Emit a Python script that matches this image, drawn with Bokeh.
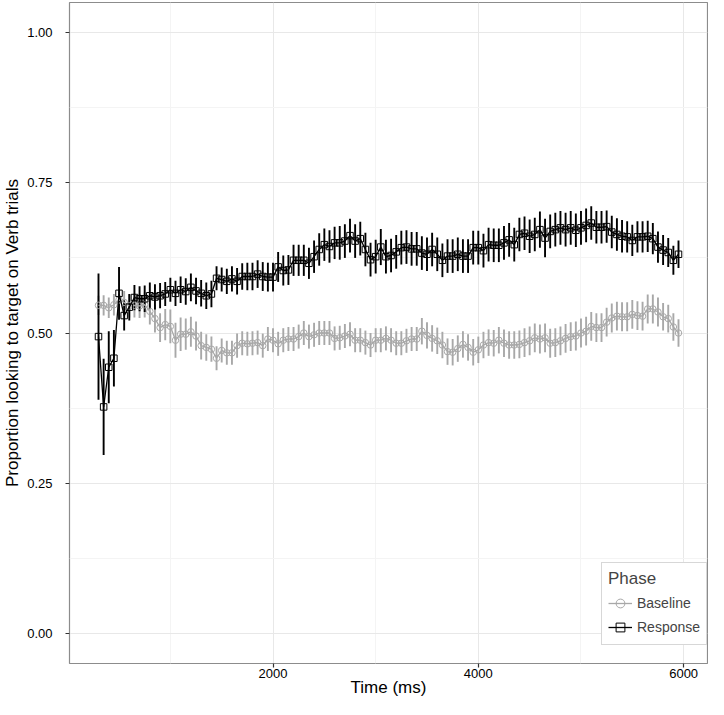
from bokeh.plotting import figure
from bokeh.models import (ColumnDataSource, FixedTicker, NumeralTickFormatter,
                          Range1d, Legend, LegendItem)
from bokeh.embed import file_html
from bokeh.resources import INLINE

time_ms = [300, 350, 400, 450, 500, 550, 600, 650, 700, 750,
           800, 850, 900, 950, 1000, 1050, 1100, 1150, 1200, 1250,
           1300, 1350, 1400, 1450, 1500, 1550, 1600, 1650, 1700, 1750,
           1800, 1850, 1900, 1950, 2000, 2050, 2100, 2150, 2200, 2250,
           2300, 2350, 2400, 2450, 2500, 2550, 2600, 2650, 2700, 2750,
           2800, 2850, 2900, 2950, 3000, 3050, 3100, 3150, 3200, 3250,
           3300, 3350, 3400, 3450, 3500, 3550, 3600, 3650, 3700, 3750,
           3800, 3850, 3900, 3950, 4000, 4050, 4100, 4150, 4200, 4250,
           4300, 4350, 4400, 4450, 4500, 4550, 4600, 4650, 4700, 4750,
           4800, 4850, 4900, 4950, 5000, 5050, 5100, 5150, 5200, 5250,
           5300, 5350, 5400, 5450, 5500, 5550, 5600, 5650, 5700, 5750,
           5800, 5850, 5900, 5950]

baseline = [0.546, 0.546, 0.542, 0.547, 0.555, 0.551, 0.545, 0.546, 0.545, 0.547,
            0.536, 0.524, 0.509, 0.514, 0.511, 0.488, 0.498, 0.498, 0.502, 0.495,
            0.479, 0.476, 0.473, 0.458, 0.471, 0.467, 0.467, 0.479, 0.483, 0.482,
            0.483, 0.484, 0.479, 0.490, 0.488, 0.482, 0.488, 0.490, 0.490, 0.494,
            0.500, 0.494, 0.497, 0.500, 0.500, 0.500, 0.491, 0.492, 0.495, 0.498,
            0.488, 0.488, 0.484, 0.480, 0.488, 0.488, 0.491, 0.488, 0.483, 0.483,
            0.487, 0.490, 0.490, 0.503, 0.496, 0.491, 0.487, 0.480, 0.469, 0.468,
            0.474, 0.481, 0.476, 0.468, 0.472, 0.480, 0.484, 0.483, 0.488, 0.483,
            0.480, 0.480, 0.481, 0.484, 0.487, 0.492, 0.490, 0.492, 0.483, 0.484,
            0.487, 0.491, 0.494, 0.495, 0.500, 0.503, 0.511, 0.509, 0.509, 0.518,
            0.525, 0.528, 0.527, 0.527, 0.531, 0.529, 0.528, 0.540, 0.540, 0.535,
            0.527, 0.524, 0.510, 0.500]

baseline_err = [0.016, 0.017, 0.017, 0.018, 0.018, 0.019, 0.019, 0.020, 0.020, 0.021,
                0.022, 0.023, 0.024, 0.026, 0.028, 0.029, 0.028, 0.026, 0.025, 0.024,
                0.023, 0.022, 0.021, 0.020, 0.020, 0.020, 0.020, 0.020, 0.020, 0.020,
                0.020, 0.020, 0.020, 0.020, 0.020, 0.020, 0.020, 0.020, 0.020, 0.020,
                0.020, 0.020, 0.020, 0.020, 0.020, 0.020, 0.020, 0.020, 0.020, 0.020,
                0.020, 0.020, 0.020, 0.020, 0.020, 0.020, 0.020, 0.020, 0.020, 0.020,
                0.020, 0.020, 0.020, 0.022, 0.022, 0.022, 0.022, 0.022, 0.022, 0.022,
                0.022, 0.022, 0.022, 0.022, 0.022, 0.022, 0.022, 0.022, 0.022, 0.023,
                0.023, 0.023, 0.023, 0.024, 0.024, 0.024, 0.024, 0.024, 0.024, 0.024,
                0.024, 0.024, 0.024, 0.024, 0.024, 0.024, 0.024, 0.024, 0.024, 0.024,
                0.024, 0.024, 0.024, 0.024, 0.024, 0.024, 0.024, 0.024, 0.024, 0.024,
                0.023, 0.023, 0.023, 0.023]

response = [0.494, 0.377, 0.443, 0.458, 0.566, 0.529, 0.543, 0.559, 0.557, 0.557,
            0.562, 0.560, 0.562, 0.565, 0.572, 0.566, 0.572, 0.569, 0.576, 0.570,
            0.566, 0.562, 0.565, 0.591, 0.589, 0.586, 0.590, 0.586, 0.594, 0.594,
            0.594, 0.598, 0.594, 0.593, 0.593, 0.610, 0.604, 0.605, 0.621, 0.621,
            0.621, 0.616, 0.627, 0.639, 0.647, 0.644, 0.650, 0.650, 0.653, 0.662,
            0.653, 0.657, 0.639, 0.622, 0.627, 0.643, 0.627, 0.629, 0.635, 0.642,
            0.643, 0.640, 0.640, 0.633, 0.631, 0.639, 0.631, 0.621, 0.628, 0.628,
            0.631, 0.628, 0.628, 0.642, 0.642, 0.637, 0.647, 0.646, 0.646, 0.650,
            0.655, 0.647, 0.664, 0.666, 0.661, 0.664, 0.672, 0.658, 0.669, 0.672,
            0.675, 0.672, 0.675, 0.671, 0.675, 0.679, 0.683, 0.676, 0.676, 0.677,
            0.668, 0.664, 0.661, 0.660, 0.654, 0.660, 0.660, 0.661, 0.657, 0.643,
            0.638, 0.634, 0.621, 0.631]

response_err = [0.105, 0.080, 0.060, 0.047, 0.044, 0.025, 0.022, 0.021, 0.021, 0.022,
                0.022, 0.021, 0.021, 0.020, 0.020, 0.021, 0.022, 0.022, 0.023, 0.022,
                0.022, 0.022, 0.022, 0.020, 0.020, 0.021, 0.021, 0.022, 0.022, 0.023,
                0.023, 0.023, 0.024, 0.024, 0.024, 0.025, 0.025, 0.025, 0.026, 0.026,
                0.026, 0.026, 0.027, 0.027, 0.027, 0.027, 0.027, 0.028, 0.028, 0.028,
                0.028, 0.028, 0.028, 0.028, 0.028, 0.030, 0.028, 0.028, 0.028, 0.028,
                0.028, 0.028, 0.028, 0.028, 0.028, 0.028, 0.028, 0.028, 0.028, 0.028,
                0.028, 0.028, 0.028, 0.028, 0.028, 0.028, 0.028, 0.028, 0.028, 0.028,
                0.028, 0.028, 0.028, 0.028, 0.028, 0.028, 0.030, 0.032, 0.028, 0.028,
                0.028, 0.028, 0.028, 0.028, 0.028, 0.028, 0.028, 0.027, 0.027, 0.027,
                0.027, 0.027, 0.027, 0.026, 0.026, 0.026, 0.026, 0.026, 0.026, 0.026,
                0.025, 0.024, 0.024, 0.023]

phases = ["Baseline", "Response"]
x_ticks = [2000, 4000, 6000]
x_minor = [1000, 3000, 5000]
y_ticks = [0.0, 0.25, 0.5, 0.75, 1.0]
y_minor = [0.125, 0.375, 0.625, 0.875]

FONT = "Liberation Sans"
GREY = "#a8a8a8"
BLACK = "#000000"

# ggplot-style 5% expansion
xmin, xmax = min(time_ms), max(time_ms)
xpad = (xmax - xmin) * 0.05

p = figure(width=708, height=699, output_backend="svg", toolbar_location=None,
           x_range=Range1d(xmin - xpad, xmax + xpad), y_range=Range1d(-0.05, 1.05),
           min_border_left=68, min_border_right=1, min_border_top=2, min_border_bottom=0)

p.background_fill_color = "white"
p.border_fill_color = "white"
p.outline_line_color = "#8c8c8c"
p.outline_line_width = 1.2

p.xaxis.ticker = FixedTicker(ticks=x_ticks, minor_ticks=x_minor)
p.yaxis.ticker = FixedTicker(ticks=y_ticks, minor_ticks=y_minor)
p.yaxis.formatter = NumeralTickFormatter(format="0.00")

for ax in (p.xaxis[0], p.yaxis[0]):
    ax.axis_line_color = None
    ax.major_tick_line_color = "#333333"
    ax.major_tick_line_width = 1.2
    ax.major_tick_out = 4
    ax.major_tick_in = 0
    ax.minor_tick_line_color = None
    ax.major_label_text_font = FONT
    ax.major_label_text_font_size = "13px"
    ax.major_label_text_color = "#000000"
    ax.axis_label_text_font = FONT
    ax.axis_label_text_font_size = "17px"
    ax.axis_label_text_font_style = "normal"
    ax.axis_label_text_color = "#000000"

p.xaxis.axis_label = "Time (ms)"
p.yaxis.axis_label = "Proportion looking to target on Verb trials"
p.xaxis.major_label_standoff = 1
p.xaxis.axis_label_standoff = -3
p.yaxis.major_label_standoff = 13
p.yaxis.axis_label_standoff = 2

p.grid.grid_line_color = "#e8e8e8"
p.grid.grid_line_width = 1
p.grid.minor_grid_line_color = "#f4f4f4"
p.grid.minor_grid_line_width = 1

series = [
    ("Baseline", baseline, baseline_err, GREY, "circle"),
    ("Response", response, response_err, BLACK, "square"),
]

items = []
renderers = {}
for name, vals, errs, color, marker in series:
    src = ColumnDataSource(dict(
        t=time_ms, y=vals,
        lo=[v - e for v, e in zip(vals, errs)],
        hi=[v + e for v, e in zip(vals, errs)],
    ))
    renderers[name] = (src, color, marker)

# error bars first
for name in phases:
    src, color, marker = renderers[name]
    p.segment(x0="t", x1="t", y0="lo", y1="hi", source=src,
              line_color=color, line_width=1.9)

for name in phases:
    src, color, marker = renderers[name]
    ln = p.line(x="t", y="y", source=src, line_color=color, line_width=1.3)
    pts = p.scatter(x="t", y="y", source=src, marker=marker, size=6.5,
                    line_color=color, line_width=1.0, fill_color=None)
    items.append(LegendItem(label=name, renderers=[ln, pts]))

legend = Legend(items=items, title="Phase", location=(532, 18))
legend.title_text_font = FONT
legend.title_text_font_size = "17px"
legend.title_text_font_style = "normal"
legend.label_text_font = FONT
legend.label_text_font_size = "14px"
legend.border_line_color = "#b0b0b0"
legend.border_line_width = 1.5
legend.background_fill_color = "white"
legend.background_fill_alpha = 1.0
legend.glyph_width = 24
legend.glyph_height = 22
legend.spacing = 2
legend.padding = 6
legend.margin = 0
legend.label_standoff = 5
legend.title_standoff = 3
p.add_layout(legend)

open("out.html", "w").write(file_html(p, INLINE))
